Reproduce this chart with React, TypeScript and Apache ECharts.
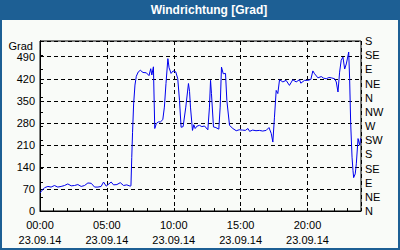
import React, { useEffect, useRef } from "react";
import * as echarts from "echarts";

const hours = [
  0.0, 0.11, 0.25, 0.34, 0.59, 0.83, 1.08, 1.33, 1.58, 1.83, 2.08, 2.33, 2.58, 2.83, 3.08, 3.33, 3.58, 3.83,
  4.08, 4.33, 4.57, 4.75, 4.95, 5.15, 5.32, 5.5, 5.75, 6.0, 6.25, 6.49, 6.74, 6.8, 6.86, 6.92, 7.0, 7.1, 7.2,
  7.35, 7.5, 7.7, 7.95, 8.15, 8.28, 8.36, 8.48, 8.58, 8.7, 8.85, 9.0, 9.18, 9.3, 9.42, 9.56, 9.65, 9.8, 9.95,
  10.15, 10.3, 10.43, 10.55, 10.7, 10.9, 11.1, 11.18, 11.25, 11.4, 11.5, 11.6, 11.75, 11.93, 12.1, 12.3, 12.55,
  12.67, 12.75, 12.82, 12.97, 13.15, 13.37, 13.47, 13.57, 13.7, 13.87, 13.97, 14.17, 14.42, 14.67, 14.9, 15.15,
  15.35, 15.55, 15.67, 15.9, 16.15, 16.4, 16.65, 16.91, 17.12, 17.29, 17.41, 17.53, 17.66, 17.78, 17.91, 18.16,
  18.4, 18.65, 18.9, 19.15, 19.4, 19.5, 19.78, 20.03, 20.25, 20.4, 20.53, 20.78, 21.03, 21.2, 21.4, 21.6, 21.78,
  22.03, 22.15, 22.28, 22.4, 22.52, 22.65, 22.78, 22.9, 22.98, 23.08, 23.15, 23.23, 23.33, 23.4, 23.45, 23.57,
  23.65, 23.78, 23.9, 23.97,
];

const degrees = [
  57, 63, 70, 74, 78, 76, 81, 76, 78, 81, 86, 80, 81, 84, 78, 81, 89, 88,
  76, 76, 78, 92, 79, 86, 92, 83, 84, 90, 81, 83, 79, 80, 170, 250, 340, 400, 428,
  442, 447, 440, 439, 430, 452, 432, 458, 262, 278, 283, 283, 290, 330, 405, 484, 455, 437, 445,
  442, 420, 351, 266, 268, 330, 405, 380, 330, 256, 274, 262, 270, 272, 268, 270, 258,
  330, 415, 373, 267, 265, 260, 330, 457, 436, 437, 351, 272, 262, 255, 258, 257,
  256, 262, 253, 257, 255, 256, 254, 256, 265, 246, 219, 298, 383, 373, 417, 410,
  415, 399, 417, 410, 417, 406, 415, 415, 418, 445, 436, 423, 427, 422, 420, 424, 423,
  420, 410, 378, 441, 479, 489, 451, 467, 483, 505, 420, 277, 171, 129, 106, 118,
  150, 230, 209, 231,
];

const compassLabels = ["N", "NE", "E", "SE", "S", "SW", "W", "NW", "N", "NE", "E", "SE", "S"];
const dateLabel = "23.09.14";
const titleText = "Windrichtung [Grad]";
const unitLabel = "Grad";

const FONT = "'Liberation Sans', Arial, sans-serif";

export default function App() {
  const ref = useRef<HTMLDivElement>(null);

  useEffect(() => {
    document.body.style.margin = "0";
    const chart = echarts.init(ref.current!, null, { renderer: "svg" });
    const data = hours.map((h, i) => [h, degrees[i]]);
    const pad = (n: number) => (n < 10 ? "0" + n : "" + n);
    chart.setOption({
      animation: false,
      backgroundColor: "transparent",
      textStyle: { fontFamily: FONT },
      graphic: [
        {
          type: "text",
          x: 209,
          y: 10,
          style: {
            text: titleText,
            fill: "#ffffff",
            font: `bold 12px ${FONT}`,
            align: "center",
            verticalAlign: "middle",
          },
        },
        {
          type: "text",
          x: 33,
          y: 46,
          style: {
            text: unitLabel,
            fill: "#000000",
            font: `11px ${FONT}`,
            align: "right",
            verticalAlign: "middle",
          },
        },
      ],
      grid: {
        left: 40,
        right: 39,
        top: 41,
        bottom: 39,
        show: true,
        borderColor: "#000",
        borderWidth: 1,
        backgroundColor: "transparent",
      },
      xAxis: [
        {
          type: "value",
          min: 0,
          max: 24,
          interval: 5,
          position: "bottom",
          axisLine: { show: true, lineStyle: { color: "#000", width: 1 } },
          axisTick: { show: false },
          splitLine: { show: true, lineStyle: { color: "#000", type: [4, 3], width: 1 } },
          axisLabel: {
            showMaxLabel: false,
            color: "#000",
            fontSize: 11,
            fontFamily: FONT,
            lineHeight: 15,
            margin: 6,
            formatter: (v: number) => `${pad(v)}:00\n${dateLabel}`,
          },
        },
        {
          type: "value",
          min: 0,
          max: 24,
          interval: 1,
          position: "bottom",
          axisLine: { show: false },
          axisTick: { show: true, inside: true, length: 3, lineStyle: { color: "#000" } },
          splitLine: { show: false },
          axisLabel: { show: false },
        },
      ],
      yAxis: [
        {
          type: "value",
          min: 0,
          max: 540,
          interval: 70,
          position: "left",
          axisLine: { show: true, lineStyle: { color: "#000", width: 1 } },
          axisTick: { show: false },
          splitLine: { show: true, lineStyle: { color: "#000", type: [4, 3], width: 1 } },
          axisLabel: {
            showMaxLabel: false,
            color: "#000",
            fontSize: 11,
            fontFamily: FONT,
            margin: 5,
          },
        },
        {
          type: "value",
          min: 0,
          max: 540,
          interval: 45,
          position: "right",
          axisLine: { show: true, lineStyle: { color: "#000", width: 1 } },
          axisTick: { show: true, inside: false, length: 3, lineStyle: { color: "#000" } },
          splitLine: { show: false },
          axisLabel: {
            color: "#000",
            fontSize: 11,
            fontFamily: FONT,
            margin: 4,
            formatter: (v: number) => compassLabels[Math.round(v / 45)] ?? "",
          },
        },
      ],
      series: [
        {
          type: "line",
          xAxisIndex: 0,
          yAxisIndex: 0,
          data,
          showSymbol: false,
          symbol: "none",
          lineStyle: { color: "#0000ee", width: 1 },
          z: 5,
        },
      ],
    });
    return () => chart.dispose();
  }, []);

  return (
    <div style={{ position: "fixed", left: 0, top: 0, width: 400, height: 250, background: "#1d5f94" }}>
      <div
        style={{ position: "absolute", left: 2, top: 20, width: 396, height: 228, background: "#f9fbf8" }}
      />
      <div ref={ref} style={{ position: "absolute", left: 0, top: 0, width: 400, height: 250 }} />
    </div>
  );
}
